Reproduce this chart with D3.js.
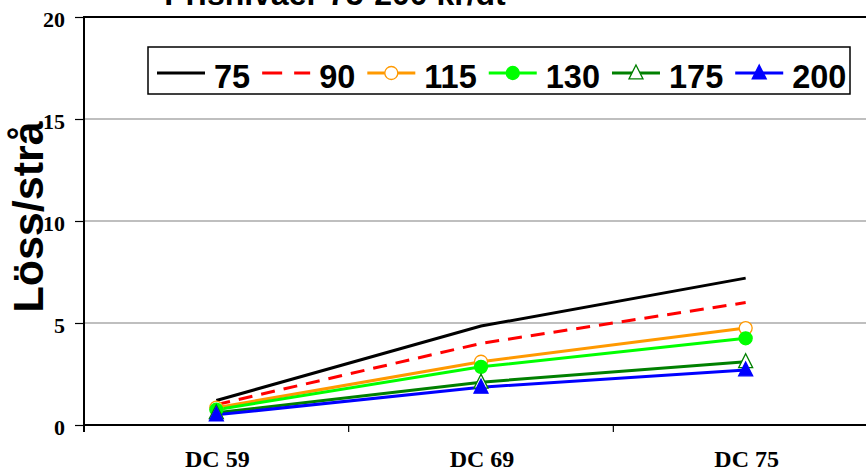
<!DOCTYPE html>
<html><head><meta charset="utf-8">
<script src="https://cdn.jsdelivr.net/npm/d3@7"></script>
<style>body{margin:0;background:#fff}svg{display:block}</style>
</head><body>
<script>
const categories = ["DC 59", "DC 69", "DC 75"];
const seriesNames = ["75", "90", "115", "130", "175", "200"];
const s75  = [1.2, 4.85, 7.2];
const s90  = [1.0, 4.0, 6.0];
const s115 = [0.85, 3.1, 4.75];
const s130 = [0.75, 2.85, 4.25];
const s175 = [0.6, 2.1, 3.1];
const s200 = [0.5, 1.85, 2.7];
const yTicks = [0, 5, 10, 15, 20];
const title = "Prisnivåer 75-200 kr/dt";
const yLabel = "Löss/strå";

const series = [
  {name: seriesNames[0], values: s75,  color: "#000000", dash: null, marker: null},
  {name: seriesNames[1], values: s90,  color: "#ff0000", dash: "14,9", marker: null},
  {name: seriesNames[2], values: s115, color: "#ff9900", dash: null, marker: "circleOpen"},
  {name: seriesNames[3], values: s130, color: "#00ff00", dash: null, marker: "circle"},
  {name: seriesNames[4], values: s175, color: "#008000", dash: null, marker: "triOpen"},
  {name: seriesNames[5], values: s200, color: "#0000ff", dash: null, marker: "tri"}
];

const W = 866, H = 474;
const svg = d3.select("body").append("svg").attr("width", W).attr("height", H);
const pLeft = 84, pRight = 878, pTop = 17, pBottom = 425;
const SANS = "Liberation Sans, Arial, sans-serif";
const SERIF = "Liberation Serif, Times New Roman, serif";

const x = d3.scaleBand().domain(categories).range([pLeft, pRight]).padding(0);
const y = d3.scaleLinear().domain([0, 20]).range([pBottom, pTop]);

// gridlines
svg.append("g").selectAll("line").data(yTicks.filter(d => d > 0)).join("line")
  .attr("x1", pLeft).attr("x2", pRight)
  .attr("y1", d => y(d)).attr("y2", d => y(d))
  .attr("stroke", d => d === 20 ? "#000" : "#808080")
  .attr("stroke-width", d => d === 20 ? 2 : 1.2);

// y axis
const yAxis = d3.axisLeft(y).tickValues(yTicks).tickSize(9).tickPadding(10);
const gy = svg.append("g").attr("transform", `translate(${pLeft},0)`).call(yAxis);
gy.select(".domain").remove();
gy.selectAll(".tick line").attr("stroke", "#000").attr("stroke-width", 1.2);
gy.selectAll(".tick text").attr("font-family", SERIF).attr("dy", "0.42em")
  .attr("font-weight", "bold").attr("font-size", 22).attr("fill", "#000");
svg.append("line").attr("x1", pLeft).attr("x2", pLeft).attr("y1", pTop - 1).attr("y2", pBottom + 7)
  .attr("stroke", "#000").attr("stroke-width", 2);

// x axis
const gx = svg.append("g").attr("transform", `translate(0,${pBottom})`);
gx.append("line").attr("x1", pLeft).attr("x2", pRight).attr("y1", 0).attr("y2", 0)
  .attr("stroke", "#000").attr("stroke-width", 2);
const bounds = categories.map(c => x(c)).concat([x(categories[categories.length - 1]) + x.bandwidth()]);
gx.selectAll("line.t").data(bounds).join("line").attr("class", "t")
  .attr("x1", d => d).attr("x2", d => d).attr("y1", 0).attr("y2", 7)
  .attr("stroke", "#000").attr("stroke-width", 1.2);
gx.selectAll("text").data(categories).join("text")
  .attr("x", d => x(d) + x.bandwidth() / 2 + 1).attr("y", 42)
  .attr("text-anchor", "middle")
  .attr("font-family", SERIF)
  .attr("font-weight", "bold").attr("font-size", 24).text(d => d);

// lines
const cx = c => x(c) + x.bandwidth() / 2;
const line = d3.line().x((d, i) => cx(categories[i])).y(d => y(d));

function drawMarker(g, type, color, px, py) {
  if (!type) return;
  if (type === "circleOpen" || type === "circle") {
    g.append("circle").attr("cx", px).attr("cy", py).attr("r", 6.5)
      .attr("fill", type === "circle" ? color : "#fff").attr("stroke", color).attr("stroke-width", 1.3);
  } else {
    const s = 7;
    const pts = [[px, py - s - 1], [px + s, py + s * 0.85], [px - s, py + s * 0.85]];
    g.append("polygon").attr("points", pts.map(p => p.join(",")).join(" "))
      .attr("fill", type === "tri" ? color : "#fff").attr("stroke", color).attr("stroke-width", 1.3);
  }
}

const gl = svg.append("g");
series.forEach(s => {
  gl.append("path").datum(s.values).attr("d", line).attr("fill", "none")
    .attr("stroke", s.color).attr("stroke-width", 3)
    .attr("stroke-dasharray", s.dash);
});
series.forEach(s => {
  s.values.forEach((v, i) => drawMarker(gl, s.marker, s.color, cx(categories[i]), y(v)));
});

// title (cut off at top)
svg.append("text").attr("x", 335).attr("y", 5).attr("text-anchor", "middle")
  .attr("font-family", SANS).attr("font-weight", "bold")
  .attr("font-size", 32).text(title);

// y label
svg.append("text").attr("transform", "translate(43,217) rotate(-90)")
  .attr("text-anchor", "middle")
  .attr("font-family", SANS).attr("font-weight", "bold")
  .attr("font-size", 43).text(yLabel);

// legend
const lg = svg.append("g");
lg.append("rect").attr("x", 148).attr("y", 47).attr("width", 702).attr("height", 47)
  .attr("fill", "#fff").attr("stroke", "#000").attr("stroke-width", 1.5);
let lx = 157;
const ly = 73;
series.forEach((s, i) => {
  lg.append("line").attr("x1", lx).attr("x2", lx + 48).attr("y1", ly).attr("y2", ly)
    .attr("stroke", s.color).attr("stroke-width", 3).attr("stroke-dasharray", s.dash ? "20,12" : null);
  drawMarker(lg, s.marker, s.color, lx + 24, ly);
  const t = lg.append("text").attr("x", lx + 57).attr("y", 88)
    .attr("font-family", SANS).attr("font-weight", "bold")
    .attr("font-size", 32.5).text(s.name);
  lx = lx + 57 + t.node().getComputedTextLength() + 12;
});
</script>
</body></html>
